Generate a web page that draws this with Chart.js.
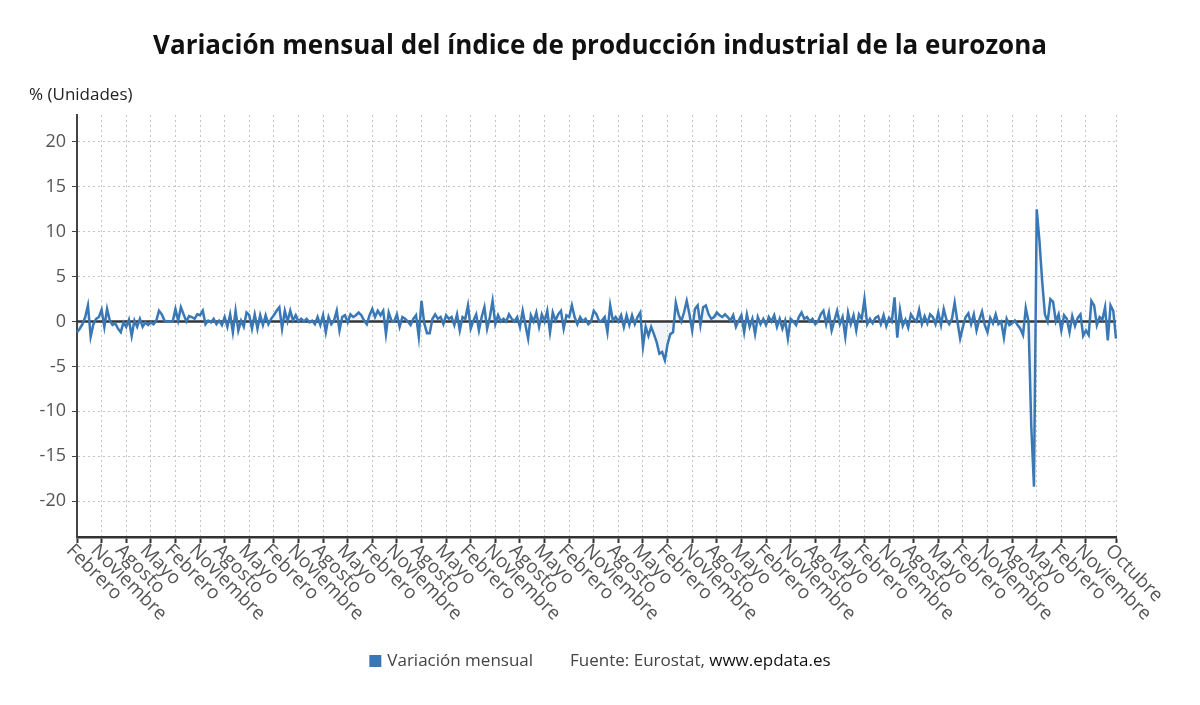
<!DOCTYPE html>
<html>
<head>
<meta charset="utf-8">
<script src="https://cdn.jsdelivr.net/npm/chart.js@4.4.0/dist/chart.umd.min.js"></script>
<style>
  body { margin: 0; background: #fff; }
  canvas { display: block; }
</style>
</head>
<body>
<canvas id="chart" width="1200" height="705"></canvas>
<script>
// Texts
const chartTitle = 'Variación mensual del índice de producción industrial de la eurozona';
const unitLabel = '% (Unidades)';
const seriesName = 'Variación mensual';
const sourceText = 'Fuente: Eurostat, ';
const sourceLink = 'www.epdata.es';

// Categories: months from Febrero 1991 to Octubre 2022
const monthNames = ['Enero', 'Febrero', 'Marzo', 'Abril', 'Mayo', 'Junio', 'Julio',
    'Agosto', 'Septiembre', 'Octubre', 'Noviembre', 'Diciembre'];
const startMonth = 1; // Febrero
const labelStep = 9;  // one label every 9 months

// Y tick labels
const yTicks = [-20, -15, -10, -5, 0, 5, 10, 15, 20];

// Monthly variation (%), Feb 1991 - Dec 1999
const values1990s = [
    -1.2, -0.8, -0.3, 0.5, 1.8, -1.7, -0.3, 0.3, 0.5, 1.3, -0.6,
    1.4, 0.1, -0.4, -0.2, -0.8, -1.2, -0.1, -0.6, 0.2, -1.6, 0.1, -0.6,
    0.3, -0.6, -0.1, -0.4, -0.1, -0.3, 0.1, 1.2, 0.8, 0.1, 0, 0,
    0, 1.4, 0.1, 1.6, 0.8, 0, 0.6, 0.5, 0.3, 0.8, 0.7, 1.2,
    -0.3, 0.1, -0.1, 0.3, -0.3, 0.1, -0.4, 0.5, -0.6, 0.8, -1.2, 1.2,
    -1.0, 0.1, -0.6, 1.0, 0.7, -0.8, 0.8, -0.8, 0.7, -0.4, 0.7, -0.3,
    0.3, 0.7, 1.2, 1.6, -0.8, 1.2, 0, 1.2, 0.1, 0.7, 0, 0.3,
    0, 0.3, -0.1, 0.1, -0.3, 0.5, -0.4, 0.7, -1.2, 0.5, -0.3, 0.1,
    1.2, -1.0, 0.5, 0.7, -0.1, 0.8, 0.5, 0.7, 1.0, 0.7, 0.1, -0.3
];

// 2000 - 2009
const values2000s = [
    0.7, 1.4, 0.5, 1.2, 0.7, 1.2, -1.4, 1.0, 0.1, 0, 0.8, -0.6,
    0.5, 0.3, 0, -0.4, 0.3, 0.7, -1.7, 2.3, -0.2, -1.3, -1.3, 0.3,
    0.8, 0.3, 0.5, -0.3, 0.7, 0.3, 0.5, -0.4, 0.8, -1.0, 0.5, 0.3,
    1.8, -0.8, 0.1, 0.8, -1.0, 0.5, 1.6, -0.8, 0.5, 2.3, -0.3, 0.7,
    0, 0.3, 0, 0.8, 0.3, 0, 0.5, -0.6, 1.2, -0.4, -1.9, 0.7,
    0, 1.0, -0.6, 0.8, 0, 1.2, -1.2, 1.0, 0.1, 0.8, 1.2, -0.8,
    0.7, 0.5, 1.8, 0.5, -0.3, 0.5, 0, 0.3, -0.3, 0, 1.2, 0.8,
    0, 0.1, 0.5, -1.2, 1.8, 0.1, 0.5, 0, 0.7, -0.6, 0.7, -0.4,
    0.7, -0.3, 0.5, 1.0, -2.8, -0.6, -1.6, -0.6, -1.4, -2.3, -3.6, -3.4,
    -4.3, -2.5, -1.4, -1.2, 2.1, 0.8, 0, 1.0, 2.3, 0.8, -1.0, 1.4
];

// 2010 - 2019
const values2010s = [
    1.8, -0.4, 1.6, 1.8, 0.8, 0.3, 0.5, 1.0, 0.7, 0.5, 0.8, 0.5,
    0.1, 0.7, -0.6, 0.1, 0.7, -1.2, 0.8, -0.6, 0.3, -1.4, 0.5, -0.3,
    0.3, -0.4, 0.5, 0, 0.7, -0.6, 0.3, -0.8, 0.1, -1.9, 0.3, 0,
    -0.4, 0.5, 1.0, 0.3, 0.5, 0, 0.3, -0.3, 0, 0.8, 1.2, -0.3,
    1.0, -1.0, 0.1, 1.2, -0.3, 0.5, -1.7, 1.0, -0.3, 0.7, -1.0, 0.8,
    0.3, 2.5, -0.3, 0.3, -0.2, 0.4, 0.6, -0.3, 0.7, -0.5, 0.4, 0.0,
    2.7, -1.8, 1.3, -0.5, 0.2, -0.7, 0.8, 0.3, 0.0, 1.3, -0.3, 0.6,
    -0.2, 0.8, 0.5, -0.3, 1.0, -0.4, 1.4, 0.2, -0.3, 0.3, 2.1, 0.0,
    -1.9, -0.6, 0.5, 0.9, -0.3, 0.8, -1.0, 0.2, 1.1, -0.4, -1.2, 0.4,
    -0.2, 0.8, -0.3, 0.0, -1.8, 0.3, -0.4, -0.2, 0.1, -0.4, -0.8, -1.5
];

// 2020 - Oct 2022
const values2020s = [
    1.5, 0.0, -11.6, -18.4, 12.5, 9.0, 4.5, 0.8, 0.0, 2.5, 2.2, 0.0,
    0.8, -1.0, 0.7, 0.3, -1.2, 0.6, -0.5, 0.4, 0.8, -1.6, -1.0, -1.5,
    2.3, 1.8, -0.4, 0.5, 0.2, 1.6, -2.1, 1.8, 1.2, -1.9
];

const values = [...values1990s, ...values2000s, ...values2010s, ...values2020s];
const labels = values.map((v, i) => monthNames[(startMonth + i) % 12]);
const lastIndex = labels.length - 1;

function showLabel(i) {
    return (i % labelStep === 0 && lastIndex - i >= labelStep) || i === lastIndex;
}

const lineColor = '#3a78b5';
const gridColor = '#c4c4c4';
const fontFamily = '"Open Sans", "Noto Sans", sans-serif';

// Zero line, title, rotated month labels and legend
const extrasPlugin = {
    id: 'extras',
    beforeDatasetsDraw(chart) {
        const { ctx, chartArea, scales } = chart;
        const y0 = scales.y.getPixelForValue(0);
        ctx.save();
        ctx.strokeStyle = '#333';
        ctx.lineWidth = 2.5;
        ctx.beginPath();
        ctx.moveTo(chartArea.left, y0);
        ctx.lineTo(chartArea.right, y0);
        ctx.stroke();
        ctx.restore();
    },
    afterDraw(chart) {
        const { ctx, scales } = chart;
        const x = scales.x;
        ctx.save();

        // Title
        ctx.fillStyle = '#111';
        ctx.font = 'bold 26px ' + fontFamily;
        ctx.textAlign = 'center';
        ctx.textBaseline = 'middle';
        ctx.fillText(chartTitle, 600, 47);

        // Unit label
        ctx.fillStyle = '#222';
        ctx.font = '17px ' + fontFamily;
        ctx.textAlign = 'left';
        ctx.fillText(unitLabel, 29, 95);

        // Month labels, rotated clockwise
        ctx.fillStyle = '#555';
        ctx.font = '19px ' + fontFamily;
        ctx.textBaseline = 'top';
        x.ticks.forEach(t => {
            const px = x.getPixelForValue(t.value);
            ctx.save();
            ctx.translate(px - 1, x.top + 4);
            ctx.rotate(Math.PI / 4);
            ctx.fillText(labels[t.value], 0, 0);
            ctx.restore();
        });

        // Legend + source
        ctx.font = '17px ' + fontFamily;
        ctx.textBaseline = 'middle';
        const w1 = ctx.measureText(seriesName).width;
        const w2 = ctx.measureText(sourceText).width;
        const w3 = ctx.measureText(sourceLink).width;
        const box = 12, gap = 6, sep = 37;
        const total = box + gap + w1 + sep + w2 + w3;
        let lx = 600 - total / 2;
        const ly = 661;
        ctx.fillStyle = lineColor;
        ctx.fillRect(lx, ly - box / 2, box, box);
        lx += box + gap;
        ctx.fillStyle = '#444';
        ctx.fillText(seriesName, lx, ly);
        lx += w1 + sep;
        ctx.fillText(sourceText, lx, ly);
        lx += w2;
        ctx.fillStyle = '#111';
        ctx.fillText(sourceLink, lx, ly);

        ctx.restore();
    }
};

new Chart(document.getElementById('chart'), {
    type: 'line',
    data: {
        labels: labels,
        datasets: [{
            label: seriesName,
            data: values,
            borderColor: lineColor,
            backgroundColor: 'rgba(58, 120, 181, 0.07)',
            borderWidth: 2.5,
            pointRadius: 0,
            fill: 'origin',
            tension: 0
        }]
    },
    options: {
        responsive: false,
        animation: false,
        devicePixelRatio: 1,
        layout: { padding: { top: 115, right: 84, bottom: 0, left: 0 } },
        plugins: {
            legend: { display: false },
            title: { display: false },
            tooltip: { enabled: false }
        },
        scales: {
            x: {
                offset: false,
                afterBuildTicks: s => { s.ticks = s.ticks.filter(t => showLabel(t.value)); },
                afterFit: s => { s.height = 168; },
                ticks: { display: false, autoSkip: false },
                grid: { color: gridColor, tickColor: '#333', tickLength: 6, tickWidth: 2 },
                border: { color: '#333', width: 2.5, dash: [2, 3] }
            },
            y: {
                min: -24,
                max: 23,
                afterBuildTicks: s => { s.ticks = yTicks.map(v => ({ value: v })); },
                afterFit: s => { s.width = 77; },
                ticks: {
                    color: '#555',
                    padding: 6,
                    font: { family: fontFamily, size: 18 }
                },
                grid: { color: gridColor, tickColor: '#444', tickLength: 5 },
                border: { color: '#444', width: 2, dash: [2, 3] }
            }
        }
    },
    plugins: [extrasPlugin]
});
</script>
</body>
</html>
